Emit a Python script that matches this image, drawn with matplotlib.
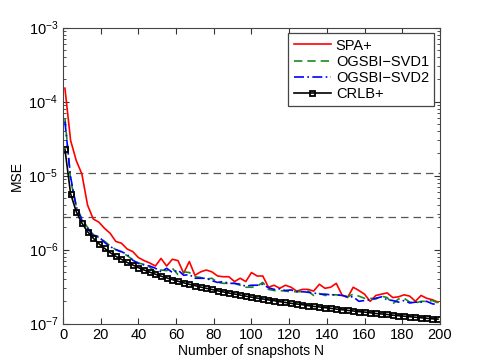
import numpy as np
import matplotlib
matplotlib.use("Agg")
from matplotlib import pyplot as plt

# snapshot counts (every 3rd sample)
snapshots = np.arange(1, 200, 3)

spa = [1.52e-4, 3.0e-5, 1.6e-5, 1.05e-5, 4.0e-6, 2.6e-6, 2.35e-6, 1.94e-6, 1.66e-6, 1.29e-6,
       1.22e-6, 1.02e-6, 9.4e-7, 7.8e-7, 7.1e-7, 6.6e-7, 6.0e-7, 7.6e-7, 6.0e-7, 7.4e-7,
       7.1e-7, 4.8e-7, 6.9e-7, 4.5e-7, 5.0e-7, 5.3e-7, 5.0e-7, 4.4e-7, 4.3e-7, 4.3e-7,
       3.7e-7, 4.1e-7, 3.7e-7, 4.9e-7, 4.4e-7, 4.4e-7, 3.1e-7, 3.3e-7, 3.0e-7, 3.3e-7,
       3.1e-7, 2.75e-7, 2.9e-7, 2.9e-7, 2.75e-7, 3.4e-7, 3.0e-7, 3.1e-7, 3.5e-7, 2.45e-7,
       2.25e-7, 3.1e-7, 2.8e-7, 2.5e-7, 2.0e-7, 2.4e-7, 2.5e-7, 2.6e-7, 2.25e-7, 2.3e-7,
       2.45e-7, 2.35e-7, 2.0e-7, 2.4e-7, 2.2e-7, 2.1e-7, 1.95e-7]

svd1 = [6.0e-5, 8.7e-6, 3.9e-6, 2.6e-6, 2.0e-6, 1.6e-6, 1.45e-6, 1.3e-6, 1.12e-6, 1.0e-6,
        9.2e-7, 8.3e-7, 7.3e-7, 6.6e-7, 6.3e-7, 5.8e-7, 5.0e-7, 5.3e-7, 5.2e-7, 5.6e-7,
        4.6e-7, 5.0e-7, 4.9e-7, 4.3e-7, 4.2e-7, 4.0e-7, 4.1e-7, 3.6e-7, 3.5e-7, 3.5e-7,
        3.5e-7, 3.3e-7, 3.1e-7, 3.1e-7, 3.2e-7, 3.6e-7, 2.9e-7, 2.8e-7, 2.8e-7, 2.75e-7,
        2.7e-7, 2.7e-7, 2.7e-7, 2.75e-7, 2.4e-7, 2.55e-7, 2.4e-7, 2.45e-7, 2.45e-7, 2.4e-7,
        2.3e-7, 2.5e-7, 2.35e-7, 2.2e-7, 2.2e-7, 2.15e-7, 2.35e-7, 2.25e-7, 1.85e-7, 2.15e-7,
        2.2e-7, 1.95e-7, 1.9e-7, 2.0e-7, 2.0e-7, 2.05e-7, 1.9e-7]

svd2 = [5.4e-5, 9.6e-6, 3.8e-6, 2.5e-6, 1.95e-6, 1.55e-6, 1.5e-6, 1.25e-6, 1.1e-6, 1.0e-6,
        9.4e-7, 8.6e-7, 7.2e-7, 6.5e-7, 6.2e-7, 6.0e-7, 5.6e-7, 5.0e-7, 5.6e-7, 4.9e-7,
        5.3e-7, 4.5e-7, 4.6e-7, 4.1e-7, 4.1e-7, 4.1e-7, 3.8e-7, 3.6e-7, 3.7e-7, 3.5e-7,
        3.5e-7, 3.4e-7, 3.2e-7, 3.3e-7, 3.3e-7, 3.4e-7, 3.05e-7, 2.9e-7, 2.95e-7, 2.8e-7,
        2.85e-7, 2.7e-7, 2.7e-7, 2.65e-7, 2.6e-7, 2.5e-7, 2.5e-7, 2.45e-7, 2.45e-7, 2.4e-7,
        2.3e-7, 2.3e-7, 2.0e-7, 2.05e-7, 2.1e-7, 2.2e-7, 2.3e-7, 2.1e-7, 2.05e-7, 1.95e-7,
        2.05e-7, 1.9e-7, 1.95e-7, 1.95e-7, 2.0e-7, 1.85e-7, 1.8e-7]

crlb = [2.28e-5, 5.7e-6, 3.26e-6, 2.28e-6, 1.75e-6, 1.43e-6, 1.2e-6, 1.04e-6, 9.1e-7, 8.1e-7,
        7.4e-7, 6.7e-7, 6.2e-7, 5.7e-7, 5.3e-7, 4.96e-7, 4.65e-7, 4.38e-7, 4.15e-7, 3.93e-7,
        3.74e-7, 3.56e-7, 3.4e-7, 3.26e-7, 3.12e-7, 3.0e-7, 2.89e-7, 2.78e-7, 2.68e-7, 2.59e-7,
        2.51e-7, 2.43e-7, 2.35e-7, 2.28e-7, 2.21e-7, 2.15e-7, 2.09e-7, 2.04e-7, 1.98e-7, 1.93e-7,
        1.88e-7, 1.84e-7, 1.8e-7, 1.75e-7, 1.71e-7, 1.68e-7, 1.64e-7, 1.61e-7, 1.57e-7, 1.54e-7,
        1.51e-7, 1.48e-7, 1.45e-7, 1.43e-7, 1.4e-7, 1.37e-7, 1.35e-7, 1.33e-7, 1.3e-7, 1.28e-7,
        1.26e-7, 1.24e-7, 1.22e-7, 1.2e-7, 1.18e-7, 1.16e-7, 1.15e-7]

# gray reference levels
ref_levels = [1.1e-5, 2.8e-6]

plt.rcParams["font.family"] = ["Liberation Sans", "DejaVu Sans"]
plt.rcParams["font.size"] = 10

fig = plt.figure(figsize=(4.85, 3.64), dpi=100)
ax = fig.add_axes([0.13, 0.111, 0.777, 0.813])

for lvl in ref_levels:
    ax.axhline(lvl, color="#555555", ls=(0, (6, 4)), lw=0.9)

ax.semilogy(snapshots, spa, color="red", lw=1.2, label="SPA+")
ax.semilogy(snapshots, svd1, color="#1a8a1a", ls=(0, (5, 3)), lw=1.2, label="OGSBI\u2212SVD1")
ax.semilogy(snapshots, svd2, color="blue", ls=(0, (6, 2, 1, 2)), lw=1.2, label="OGSBI\u2212SVD2")
ax.semilogy(snapshots, crlb, color="black", lw=1.2, marker="s", ms=3.6,
            mfc="none", mew=1.3, label="CRLB+")

ax.set_xlim(0, 200)
ax.set_ylim(1e-7, 1e-3)
ax.set_xticks(np.arange(0, 201, 20))
ax.tick_params(which="both", direction="in", top=True, right=True, colors="#333333",
               labelcolor="black", labelsize=10.5)
ax.tick_params(which="major", length=4)
ax.tick_params(which="minor", length=2)
for s in ax.spines.values():
    s.set_color("#444444")

ax.set_xlabel("Number of snapshots N", labelpad=1)
ax.set_ylabel("MSE", labelpad=3)

leg = ax.legend(loc="upper right", fancybox=False, framealpha=1, edgecolor="#444444",
                borderaxespad=0.4, handlelength=2.6, handletextpad=0.3, labelspacing=0.15,
                borderpad=0.35, fontsize=10.5, numpoints=1)
leg.get_frame().set_linewidth(0.9)

fig.savefig("out.png", dpi=100)
